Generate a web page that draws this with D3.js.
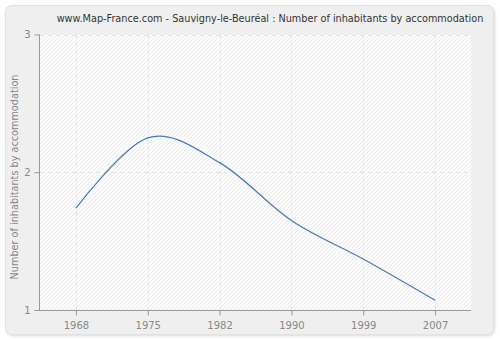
<!DOCTYPE html>
<html><head><meta charset="utf-8">
<script src="https://cdnjs.cloudflare.com/ajax/libs/d3/7.8.5/d3.min.js"></script>
<style>body{margin:0;background:#fff}svg{display:block}</style>
</head><body>
<script>
const title = "www.Map-France.com - Sauvigny-le-Beuréal : Number of inhabitants by accommodation";
const yLabel = "Number of inhabitants by accommodation";
const years = ["1968","1975","1982","1990","1999","2007"];
const values = [1.74, 2.25, 2.07, 1.65, 1.37, 1.07];
const yTicks = [1, 2, 3];

const W = 500, H = 340;
const m = {left: 40, right: 29, top: 34.5, bottom: 30};
const svg = d3.select("body").append("svg").attr("width", W).attr("height", H);
const defs = svg.append("defs");
const pat = defs.append("pattern").attr("id","hatch").attr("patternUnits","userSpaceOnUse")
  .attr("width",4).attr("height",4);
pat.append("rect").attr("width",4).attr("height",4).attr("fill","#fbfbfb");
pat.append("path").attr("d","M-1,1 l2,-2 M0,4 l4,-4 M3,5 l2,-2").attr("stroke","#ececec").attr("stroke-width",1);
const f = defs.append("filter").attr("id","sh").attr("x","-5%").attr("y","-5%").attr("width","110%").attr("height","110%");
f.append("feDropShadow").attr("dx",1).attr("dy",1).attr("stdDeviation",1).attr("flood-color","#000").attr("flood-opacity",0.15);

svg.append("rect").attr("x",5.5).attr("y",5.5).attr("width",488).attr("height",329).attr("rx",6)
  .attr("fill","#efefef").attr("stroke","#e2e2e2").attr("filter","url(#sh)");

const x = d3.scalePoint().domain(years).range([m.left, W - m.right]).padding(0.5);
const y = d3.scaleLinear().domain([1, 3]).range([H - m.bottom, m.top]);

svg.append("rect").attr("x", m.left).attr("y", m.top).attr("width", W - m.right - m.left)
  .attr("height", H - m.bottom - m.top).attr("fill","url(#hatch)");

const g = svg.append("g");
g.selectAll(".vg").data(years).join("line")
  .attr("x1", d => Math.round(x(d)) + 0.5).attr("x2", d => Math.round(x(d)) + 0.5)
  .attr("y1", m.top).attr("y2", H - m.bottom)
  .attr("stroke","#e2e2e2").attr("stroke-dasharray","4,4");
g.selectAll(".hg").data(yTicks.slice(1)).join("line")
  .attr("x1", m.left).attr("x2", W - m.right)
  .attr("y1", d => Math.round(y(d)) + 0.5).attr("y2", d => Math.round(y(d)) + 0.5)
  .attr("stroke","#e2e2e2").attr("stroke-dasharray","4,4");

const line = d3.line().x((d,i) => x(years[i])).y(d => y(d)).curve(d3.curveCardinal.tension(0));
svg.append("path").datum(values).attr("d", line).attr("fill","none")
  .attr("stroke","#4a7ab5").attr("stroke-width",1.2);

const font = "DejaVu Sans, Verdana, sans-serif";
const xa = svg.append("g").attr("transform", `translate(0,${H - m.bottom + 0.5})`)
  .call(d3.axisBottom(x).tickSize(5).tickPadding(6).tickSizeOuter(0));
const ya = svg.append("g").attr("transform", `translate(${m.left - 0.5},0)`)
  .call(d3.axisLeft(y).tickValues(yTicks).tickFormat(d3.format("d")).tickSize(5).tickPadding(4).tickSizeOuter(0));
[xa, ya].forEach(a => {
  a.select(".domain").attr("stroke","#999");
  a.selectAll(".tick line").attr("stroke","#999");
  a.selectAll("text").attr("fill","#888").style("font-family", font).style("font-size","10px");
});
xa.select(".domain").attr("d", `M${m.left - 5},0H${W - m.right}`);
ya.select(".domain").attr("d", `M0,${m.top}V${H - m.bottom}`);

svg.append("text").attr("x", 270).attr("y", 22).attr("text-anchor","middle")
  .style("font-family", font).style("font-size","9.7px").attr("fill","#333").text(title);
svg.append("text").attr("transform", `translate(18,177) rotate(-90)`)
  .attr("text-anchor","middle").style("font-family", font).style("font-size","9.7px")
  .attr("fill","#888").text(yLabel);
</script>
</body></html>
